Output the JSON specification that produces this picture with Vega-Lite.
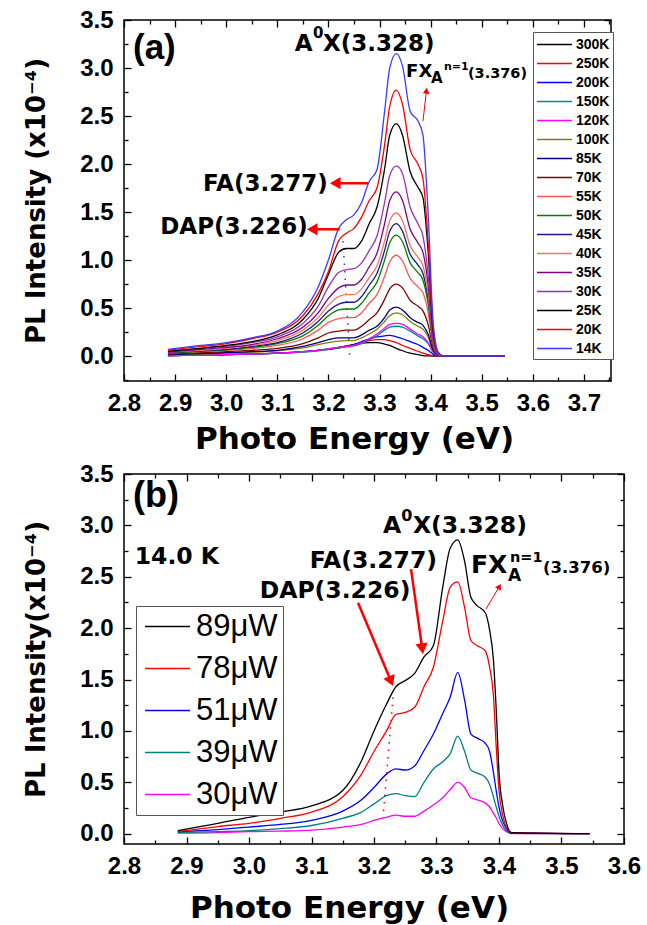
{
"$schema":"https://vega.github.io/schema/vega-lite/v6.json",
"background":"white",
"padding":{"left":22,"top":7,"right":0,"bottom":0},
"spacing":93,
"bounds":"flush",
"resolve":{"scale":{"color":"independent"},"legend":{"color":"independent"}},
"config":{
"view":{"stroke":"black","strokeWidth":1.5},
"axis":{"domain":false,"grid":false,"tickColor":"black","tickWidth":1.3,"labelFont":"Liberation Sans","labelFontWeight":"bold","labelFontSize":24,"labelColor":"black","titleFont":"DejaVu Sans","titleFontWeight":"bold","titleColor":"black","labelOverlap":false,"labelFlush":false},
"legend":{"labelColor":"black","strokeColor":"#555","fillColor":"white","titlePadding":0}
},
"datasets":{
"a":[
{"s":"300K","E":2.886,"I":0.005},{"s":"300K","E":2.95,"I":0.01},{"s":"300K","E":3.0,"I":0.015},{"s":"300K","E":3.05,"I":0.02},{"s":"300K","E":3.1,"I":0.03},{"s":"300K","E":3.15,"I":0.045},{"s":"300K","E":3.18,"I":0.06},{"s":"300K","E":3.2,"I":0.075},{"s":"300K","E":3.22,"I":0.09},{"s":"300K","E":3.235,"I":0.105},{"s":"300K","E":3.25,"I":0.12},{"s":"300K","E":3.265,"I":0.135},{"s":"300K","E":3.28,"I":0.14},{"s":"300K","E":3.295,"I":0.14},{"s":"300K","E":3.31,"I":0.125},{"s":"300K","E":3.32,"I":0.11},{"s":"300K","E":3.333,"I":0.08},{"s":"300K","E":3.345,"I":0.055},{"s":"300K","E":3.36,"I":0.03},{"s":"300K","E":3.375,"I":0.015},{"s":"300K","E":3.385,"I":0.005},{"s":"300K","E":3.395,"I":0.002},{"s":"300K","E":3.405,"I":0},{"s":"300K","E":3.415,"I":0},{"s":"300K","E":3.425,"I":0},{"s":"300K","E":3.545,"I":0},
{"s":"250K","E":2.886,"I":0.005},{"s":"250K","E":2.95,"I":0.01},{"s":"250K","E":3.0,"I":0.015},{"s":"250K","E":3.05,"I":0.02},{"s":"250K","E":3.1,"I":0.03},{"s":"250K","E":3.15,"I":0.045},{"s":"250K","E":3.18,"I":0.06},{"s":"250K","E":3.2,"I":0.07},{"s":"250K","E":3.22,"I":0.085},{"s":"250K","E":3.235,"I":0.1},{"s":"250K","E":3.25,"I":0.12},{"s":"250K","E":3.265,"I":0.14},{"s":"250K","E":3.28,"I":0.16},{"s":"250K","E":3.295,"I":0.17},{"s":"250K","E":3.31,"I":0.17},{"s":"250K","E":3.32,"I":0.16},{"s":"250K","E":3.333,"I":0.14},{"s":"250K","E":3.345,"I":0.11},{"s":"250K","E":3.36,"I":0.08},{"s":"250K","E":3.375,"I":0.05},{"s":"250K","E":3.385,"I":0.03},{"s":"250K","E":3.395,"I":0.015},{"s":"250K","E":3.405,"I":0.005},{"s":"250K","E":3.415,"I":0},{"s":"250K","E":3.425,"I":0},{"s":"250K","E":3.545,"I":0},
{"s":"200K","E":2.886,"I":0.005},{"s":"200K","E":2.95,"I":0.01},{"s":"200K","E":3.0,"I":0.015},{"s":"200K","E":3.05,"I":0.02},{"s":"200K","E":3.1,"I":0.03},{"s":"200K","E":3.15,"I":0.045},{"s":"200K","E":3.18,"I":0.06},{"s":"200K","E":3.2,"I":0.07},{"s":"200K","E":3.22,"I":0.085},{"s":"200K","E":3.235,"I":0.1},{"s":"200K","E":3.25,"I":0.12},{"s":"200K","E":3.265,"I":0.15},{"s":"200K","E":3.28,"I":0.18},{"s":"200K","E":3.295,"I":0.2},{"s":"200K","E":3.31,"I":0.21},{"s":"200K","E":3.32,"I":0.215},{"s":"200K","E":3.333,"I":0.2},{"s":"200K","E":3.345,"I":0.18},{"s":"200K","E":3.36,"I":0.15},{"s":"200K","E":3.375,"I":0.12},{"s":"200K","E":3.385,"I":0.09},{"s":"200K","E":3.395,"I":0.06},{"s":"200K","E":3.405,"I":0.02},{"s":"200K","E":3.415,"I":0.003},{"s":"200K","E":3.425,"I":0},{"s":"200K","E":3.545,"I":0},
{"s":"150K","E":2.886,"I":0.005},{"s":"150K","E":2.95,"I":0.01},{"s":"150K","E":3.0,"I":0.015},{"s":"150K","E":3.05,"I":0.02},{"s":"150K","E":3.1,"I":0.028},{"s":"150K","E":3.15,"I":0.04},{"s":"150K","E":3.18,"I":0.055},{"s":"150K","E":3.2,"I":0.07},{"s":"150K","E":3.22,"I":0.085},{"s":"150K","E":3.235,"I":0.095},{"s":"150K","E":3.25,"I":0.105},{"s":"150K","E":3.265,"I":0.13},{"s":"150K","E":3.28,"I":0.17},{"s":"150K","E":3.295,"I":0.21},{"s":"150K","E":3.31,"I":0.27},{"s":"150K","E":3.32,"I":0.3},{"s":"150K","E":3.333,"I":0.31},{"s":"150K","E":3.345,"I":0.3},{"s":"150K","E":3.36,"I":0.26},{"s":"150K","E":3.375,"I":0.21},{"s":"150K","E":3.385,"I":0.18},{"s":"150K","E":3.395,"I":0.13},{"s":"150K","E":3.405,"I":0.04},{"s":"150K","E":3.415,"I":0.005},{"s":"150K","E":3.425,"I":0},{"s":"150K","E":3.545,"I":0},
{"s":"120K","E":2.886,"I":0.005},{"s":"120K","E":2.95,"I":0.01},{"s":"120K","E":3.0,"I":0.015},{"s":"120K","E":3.05,"I":0.02},{"s":"120K","E":3.1,"I":0.03},{"s":"120K","E":3.15,"I":0.045},{"s":"120K","E":3.18,"I":0.06},{"s":"120K","E":3.2,"I":0.075},{"s":"120K","E":3.22,"I":0.09},{"s":"120K","E":3.235,"I":0.1},{"s":"120K","E":3.25,"I":0.11},{"s":"120K","E":3.265,"I":0.14},{"s":"120K","E":3.28,"I":0.18},{"s":"120K","E":3.295,"I":0.23},{"s":"120K","E":3.31,"I":0.29},{"s":"120K","E":3.32,"I":0.33},{"s":"120K","E":3.333,"I":0.34},{"s":"120K","E":3.345,"I":0.33},{"s":"120K","E":3.36,"I":0.28},{"s":"120K","E":3.375,"I":0.23},{"s":"120K","E":3.385,"I":0.2},{"s":"120K","E":3.395,"I":0.14},{"s":"120K","E":3.405,"I":0.04},{"s":"120K","E":3.415,"I":0.005},{"s":"120K","E":3.425,"I":0},{"s":"120K","E":3.545,"I":0},
{"s":"100K","E":2.886,"I":0.01},{"s":"100K","E":2.95,"I":0.02},{"s":"100K","E":3.0,"I":0.03},{"s":"100K","E":3.05,"I":0.04},{"s":"100K","E":3.1,"I":0.055},{"s":"100K","E":3.15,"I":0.085},{"s":"100K","E":3.18,"I":0.12},{"s":"100K","E":3.2,"I":0.14},{"s":"100K","E":3.22,"I":0.155},{"s":"100K","E":3.235,"I":0.16},{"s":"100K","E":3.25,"I":0.16},{"s":"100K","E":3.265,"I":0.19},{"s":"100K","E":3.28,"I":0.23},{"s":"100K","E":3.295,"I":0.28},{"s":"100K","E":3.31,"I":0.36},{"s":"100K","E":3.32,"I":0.42},{"s":"100K","E":3.333,"I":0.45},{"s":"100K","E":3.345,"I":0.43},{"s":"100K","E":3.36,"I":0.36},{"s":"100K","E":3.375,"I":0.31},{"s":"100K","E":3.385,"I":0.28},{"s":"100K","E":3.395,"I":0.2},{"s":"100K","E":3.405,"I":0.05},{"s":"100K","E":3.415,"I":0.01},{"s":"100K","E":3.425,"I":0},{"s":"100K","E":3.545,"I":0},
{"s":"85K","E":2.886,"I":0.015},{"s":"85K","E":2.95,"I":0.025},{"s":"85K","E":3.0,"I":0.035},{"s":"85K","E":3.05,"I":0.045},{"s":"85K","E":3.1,"I":0.06},{"s":"85K","E":3.15,"I":0.1},{"s":"85K","E":3.18,"I":0.14},{"s":"85K","E":3.2,"I":0.17},{"s":"85K","E":3.22,"I":0.19},{"s":"85K","E":3.235,"I":0.19},{"s":"85K","E":3.25,"I":0.19},{"s":"85K","E":3.265,"I":0.22},{"s":"85K","E":3.28,"I":0.27},{"s":"85K","E":3.295,"I":0.31},{"s":"85K","E":3.31,"I":0.4},{"s":"85K","E":3.32,"I":0.48},{"s":"85K","E":3.333,"I":0.51},{"s":"85K","E":3.345,"I":0.48},{"s":"85K","E":3.36,"I":0.4},{"s":"85K","E":3.375,"I":0.35},{"s":"85K","E":3.385,"I":0.32},{"s":"85K","E":3.395,"I":0.23},{"s":"85K","E":3.405,"I":0.06},{"s":"85K","E":3.415,"I":0.01},{"s":"85K","E":3.425,"I":0},{"s":"85K","E":3.545,"I":0},
{"s":"70K","E":2.886,"I":0.02},{"s":"70K","E":2.95,"I":0.035},{"s":"70K","E":3.0,"I":0.045},{"s":"70K","E":3.05,"I":0.06},{"s":"70K","E":3.1,"I":0.08},{"s":"70K","E":3.15,"I":0.13},{"s":"70K","E":3.18,"I":0.19},{"s":"70K","E":3.2,"I":0.24},{"s":"70K","E":3.22,"I":0.26},{"s":"70K","E":3.235,"I":0.27},{"s":"70K","E":3.25,"I":0.27},{"s":"70K","E":3.265,"I":0.31},{"s":"70K","E":3.28,"I":0.38},{"s":"70K","E":3.295,"I":0.45},{"s":"70K","E":3.31,"I":0.59},{"s":"70K","E":3.32,"I":0.7},{"s":"70K","E":3.333,"I":0.75},{"s":"70K","E":3.345,"I":0.71},{"s":"70K","E":3.36,"I":0.58},{"s":"70K","E":3.375,"I":0.52},{"s":"70K","E":3.385,"I":0.47},{"s":"70K","E":3.395,"I":0.33},{"s":"70K","E":3.405,"I":0.09},{"s":"70K","E":3.415,"I":0.01},{"s":"70K","E":3.425,"I":0},{"s":"70K","E":3.545,"I":0},
{"s":"55K","E":2.886,"I":0.03},{"s":"55K","E":2.95,"I":0.045},{"s":"55K","E":3.0,"I":0.06},{"s":"55K","E":3.05,"I":0.08},{"s":"55K","E":3.1,"I":0.11},{"s":"55K","E":3.15,"I":0.18},{"s":"55K","E":3.18,"I":0.27},{"s":"55K","E":3.2,"I":0.35},{"s":"55K","E":3.22,"I":0.39},{"s":"55K","E":3.235,"I":0.4},{"s":"55K","E":3.25,"I":0.4},{"s":"55K","E":3.265,"I":0.45},{"s":"55K","E":3.28,"I":0.55},{"s":"55K","E":3.295,"I":0.64},{"s":"55K","E":3.31,"I":0.83},{"s":"55K","E":3.32,"I":0.98},{"s":"55K","E":3.333,"I":1.05},{"s":"55K","E":3.345,"I":0.99},{"s":"55K","E":3.36,"I":0.81},{"s":"55K","E":3.375,"I":0.72},{"s":"55K","E":3.385,"I":0.66},{"s":"55K","E":3.395,"I":0.46},{"s":"55K","E":3.405,"I":0.12},{"s":"55K","E":3.415,"I":0.015},{"s":"55K","E":3.425,"I":0},{"s":"55K","E":3.545,"I":0},
{"s":"50K","E":2.886,"I":0.03},{"s":"50K","E":2.95,"I":0.05},{"s":"50K","E":3.0,"I":0.065},{"s":"50K","E":3.05,"I":0.09},{"s":"50K","E":3.1,"I":0.13},{"s":"50K","E":3.15,"I":0.21},{"s":"50K","E":3.18,"I":0.32},{"s":"50K","E":3.2,"I":0.42},{"s":"50K","E":3.22,"I":0.48},{"s":"50K","E":3.235,"I":0.49},{"s":"50K","E":3.25,"I":0.49},{"s":"50K","E":3.265,"I":0.55},{"s":"50K","E":3.28,"I":0.66},{"s":"50K","E":3.295,"I":0.77},{"s":"50K","E":3.31,"I":1.0},{"s":"50K","E":3.32,"I":1.18},{"s":"50K","E":3.333,"I":1.26},{"s":"50K","E":3.345,"I":1.19},{"s":"50K","E":3.36,"I":0.97},{"s":"50K","E":3.375,"I":0.87},{"s":"50K","E":3.385,"I":0.79},{"s":"50K","E":3.395,"I":0.55},{"s":"50K","E":3.405,"I":0.14},{"s":"50K","E":3.415,"I":0.02},{"s":"50K","E":3.425,"I":0},{"s":"50K","E":3.545,"I":0},
{"s":"45K","E":2.886,"I":0.035},{"s":"45K","E":2.95,"I":0.055},{"s":"45K","E":3.0,"I":0.07},{"s":"45K","E":3.05,"I":0.1},{"s":"45K","E":3.1,"I":0.14},{"s":"45K","E":3.15,"I":0.24},{"s":"45K","E":3.18,"I":0.36},{"s":"45K","E":3.2,"I":0.47},{"s":"45K","E":3.22,"I":0.54},{"s":"45K","E":3.235,"I":0.56},{"s":"45K","E":3.25,"I":0.56},{"s":"45K","E":3.265,"I":0.62},{"s":"45K","E":3.28,"I":0.74},{"s":"45K","E":3.295,"I":0.86},{"s":"45K","E":3.31,"I":1.1},{"s":"45K","E":3.32,"I":1.3},{"s":"45K","E":3.333,"I":1.38},{"s":"45K","E":3.345,"I":1.3},{"s":"45K","E":3.36,"I":1.06},{"s":"45K","E":3.375,"I":0.95},{"s":"45K","E":3.385,"I":0.86},{"s":"45K","E":3.395,"I":0.6},{"s":"45K","E":3.405,"I":0.15},{"s":"45K","E":3.415,"I":0.02},{"s":"45K","E":3.425,"I":0},{"s":"45K","E":3.545,"I":0},
{"s":"40K","E":2.886,"I":0.04},{"s":"40K","E":2.95,"I":0.06},{"s":"40K","E":3.0,"I":0.08},{"s":"40K","E":3.05,"I":0.11},{"s":"40K","E":3.1,"I":0.16},{"s":"40K","E":3.15,"I":0.27},{"s":"40K","E":3.18,"I":0.4},{"s":"40K","E":3.2,"I":0.53},{"s":"40K","E":3.22,"I":0.62},{"s":"40K","E":3.235,"I":0.64},{"s":"40K","E":3.25,"I":0.64},{"s":"40K","E":3.265,"I":0.7},{"s":"40K","E":3.28,"I":0.82},{"s":"40K","E":3.295,"I":0.94},{"s":"40K","E":3.31,"I":1.2},{"s":"40K","E":3.32,"I":1.41},{"s":"40K","E":3.333,"I":1.49},{"s":"40K","E":3.345,"I":1.41},{"s":"40K","E":3.36,"I":1.15},{"s":"40K","E":3.375,"I":1.03},{"s":"40K","E":3.385,"I":0.94},{"s":"40K","E":3.395,"I":0.66},{"s":"40K","E":3.405,"I":0.16},{"s":"40K","E":3.415,"I":0.02},{"s":"40K","E":3.425,"I":0},{"s":"40K","E":3.545,"I":0},
{"s":"35K","E":2.886,"I":0.04},{"s":"35K","E":2.95,"I":0.07},{"s":"35K","E":3.0,"I":0.09},{"s":"35K","E":3.05,"I":0.12},{"s":"35K","E":3.1,"I":0.18},{"s":"35K","E":3.15,"I":0.3},{"s":"35K","E":3.18,"I":0.45},{"s":"35K","E":3.2,"I":0.6},{"s":"35K","E":3.22,"I":0.71},{"s":"35K","E":3.235,"I":0.74},{"s":"35K","E":3.25,"I":0.74},{"s":"35K","E":3.265,"I":0.8},{"s":"35K","E":3.28,"I":0.93},{"s":"35K","E":3.295,"I":1.07},{"s":"35K","E":3.31,"I":1.38},{"s":"35K","E":3.32,"I":1.62},{"s":"35K","E":3.333,"I":1.71},{"s":"35K","E":3.345,"I":1.62},{"s":"35K","E":3.36,"I":1.32},{"s":"35K","E":3.375,"I":1.18},{"s":"35K","E":3.385,"I":1.08},{"s":"35K","E":3.395,"I":0.75},{"s":"35K","E":3.405,"I":0.18},{"s":"35K","E":3.415,"I":0.02},{"s":"35K","E":3.425,"I":0},{"s":"35K","E":3.545,"I":0},
{"s":"30K","E":2.886,"I":0.05},{"s":"30K","E":2.95,"I":0.08},{"s":"30K","E":3.0,"I":0.1},{"s":"30K","E":3.05,"I":0.14},{"s":"30K","E":3.1,"I":0.2},{"s":"30K","E":3.15,"I":0.34},{"s":"30K","E":3.18,"I":0.52},{"s":"30K","E":3.2,"I":0.72},{"s":"30K","E":3.22,"I":0.87},{"s":"30K","E":3.235,"I":0.9},{"s":"30K","E":3.25,"I":0.91},{"s":"30K","E":3.265,"I":0.97},{"s":"30K","E":3.28,"I":1.1},{"s":"30K","E":3.295,"I":1.25},{"s":"30K","E":3.31,"I":1.6},{"s":"30K","E":3.32,"I":1.88},{"s":"30K","E":3.333,"I":1.98},{"s":"30K","E":3.345,"I":1.9},{"s":"30K","E":3.36,"I":1.55},{"s":"30K","E":3.375,"I":1.38},{"s":"30K","E":3.385,"I":1.25},{"s":"30K","E":3.395,"I":0.85},{"s":"30K","E":3.405,"I":0.2},{"s":"30K","E":3.415,"I":0.02},{"s":"30K","E":3.425,"I":0},{"s":"30K","E":3.545,"I":0},
{"s":"25K","E":2.886,"I":0.05},{"s":"25K","E":2.95,"I":0.08},{"s":"25K","E":3.0,"I":0.11},{"s":"25K","E":3.05,"I":0.15},{"s":"25K","E":3.1,"I":0.22},{"s":"25K","E":3.15,"I":0.38},{"s":"25K","E":3.18,"I":0.6},{"s":"25K","E":3.2,"I":0.85},{"s":"25K","E":3.22,"I":1.08},{"s":"25K","E":3.235,"I":1.12},{"s":"25K","E":3.25,"I":1.12},{"s":"25K","E":3.265,"I":1.2},{"s":"25K","E":3.28,"I":1.38},{"s":"25K","E":3.295,"I":1.55},{"s":"25K","E":3.31,"I":1.95},{"s":"25K","E":3.32,"I":2.3},{"s":"25K","E":3.333,"I":2.42},{"s":"25K","E":3.345,"I":2.3},{"s":"25K","E":3.36,"I":1.92},{"s":"25K","E":3.375,"I":1.76},{"s":"25K","E":3.385,"I":1.65},{"s":"25K","E":3.395,"I":1.1},{"s":"25K","E":3.405,"I":0.25},{"s":"25K","E":3.415,"I":0.03},{"s":"25K","E":3.425,"I":0},{"s":"25K","E":3.545,"I":0},
{"s":"20K","E":2.886,"I":0.06},{"s":"20K","E":2.95,"I":0.1},{"s":"20K","E":3.0,"I":0.13},{"s":"20K","E":3.05,"I":0.18},{"s":"20K","E":3.1,"I":0.25},{"s":"20K","E":3.15,"I":0.42},{"s":"20K","E":3.18,"I":0.65},{"s":"20K","E":3.2,"I":0.88},{"s":"20K","E":3.22,"I":1.2},{"s":"20K","E":3.235,"I":1.28},{"s":"20K","E":3.25,"I":1.33},{"s":"20K","E":3.265,"I":1.45},{"s":"20K","E":3.28,"I":1.62},{"s":"20K","E":3.295,"I":1.75},{"s":"20K","E":3.31,"I":2.2},{"s":"20K","E":3.32,"I":2.6},{"s":"20K","E":3.333,"I":2.77},{"s":"20K","E":3.345,"I":2.62},{"s":"20K","E":3.36,"I":2.15},{"s":"20K","E":3.375,"I":2.0},{"s":"20K","E":3.385,"I":1.85},{"s":"20K","E":3.395,"I":1.2},{"s":"20K","E":3.405,"I":0.3},{"s":"20K","E":3.415,"I":0.03},{"s":"20K","E":3.425,"I":0},{"s":"20K","E":3.545,"I":0},
{"s":"14K","E":2.886,"I":0.07},{"s":"14K","E":2.95,"I":0.11},{"s":"14K","E":3.0,"I":0.14},{"s":"14K","E":3.05,"I":0.19},{"s":"14K","E":3.1,"I":0.26},{"s":"14K","E":3.15,"I":0.46},{"s":"14K","E":3.18,"I":0.72},{"s":"14K","E":3.2,"I":1.0},{"s":"14K","E":3.22,"I":1.33},{"s":"14K","E":3.235,"I":1.42},{"s":"14K","E":3.25,"I":1.47},{"s":"14K","E":3.265,"I":1.6},{"s":"14K","E":3.28,"I":1.82},{"s":"14K","E":3.295,"I":1.94},{"s":"14K","E":3.31,"I":2.55},{"s":"14K","E":3.32,"I":3.0},{"s":"14K","E":3.333,"I":3.15},{"s":"14K","E":3.345,"I":3.02},{"s":"14K","E":3.36,"I":2.55},{"s":"14K","E":3.375,"I":2.45},{"s":"14K","E":3.385,"I":2.3},{"s":"14K","E":3.395,"I":1.5},{"s":"14K","E":3.405,"I":0.35},{"s":"14K","E":3.415,"I":0.04},{"s":"14K","E":3.425,"I":0},{"s":"14K","E":3.545,"I":0}
],
"b":[
{"s":"30μW","E":2.886,"I":0.005},{"s":"30μW","E":2.95,"I":0.01},{"s":"30μW","E":3.0,"I":0.02},{"s":"30μW","E":3.05,"I":0.025},{"s":"30μW","E":3.1,"I":0.035},{"s":"30μW","E":3.15,"I":0.065},{"s":"30μW","E":3.18,"I":0.09},{"s":"30μW","E":3.2,"I":0.13},{"s":"30μW","E":3.22,"I":0.16},{"s":"30μW","E":3.235,"I":0.18},{"s":"30μW","E":3.25,"I":0.17},{"s":"30μW","E":3.265,"I":0.17},{"s":"30μW","E":3.28,"I":0.22},{"s":"30μW","E":3.295,"I":0.28},{"s":"30μW","E":3.31,"I":0.35},{"s":"30μW","E":3.322,"I":0.43},{"s":"30μW","E":3.334,"I":0.5},{"s":"30μW","E":3.345,"I":0.45},{"s":"30μW","E":3.355,"I":0.35},{"s":"30μW","E":3.365,"I":0.33},{"s":"30μW","E":3.378,"I":0.3},{"s":"30μW","E":3.385,"I":0.26},{"s":"30μW","E":3.391,"I":0.2},{"s":"30μW","E":3.396,"I":0.15},{"s":"30μW","E":3.4,"I":0.1},{"s":"30μW","E":3.406,"I":0.05},{"s":"30μW","E":3.412,"I":0.02},{"s":"30μW","E":3.42,"I":0.002},{"s":"30μW","E":3.545,"I":0},
{"s":"39μW","E":2.886,"I":0.01},{"s":"39μW","E":2.95,"I":0.02},{"s":"39μW","E":3.0,"I":0.03},{"s":"39μW","E":3.05,"I":0.05},{"s":"39μW","E":3.1,"I":0.08},{"s":"39μW","E":3.15,"I":0.15},{"s":"39μW","E":3.18,"I":0.21},{"s":"39μW","E":3.2,"I":0.29},{"s":"39μW","E":3.22,"I":0.37},{"s":"39μW","E":3.235,"I":0.39},{"s":"39μW","E":3.25,"I":0.37},{"s":"39μW","E":3.265,"I":0.36},{"s":"39μW","E":3.28,"I":0.5},{"s":"39μW","E":3.295,"I":0.63},{"s":"39μW","E":3.31,"I":0.7},{"s":"39μW","E":3.322,"I":0.78},{"s":"39μW","E":3.334,"I":0.95},{"s":"39μW","E":3.345,"I":0.8},{"s":"39μW","E":3.355,"I":0.62},{"s":"39μW","E":3.365,"I":0.59},{"s":"39μW","E":3.378,"I":0.55},{"s":"39μW","E":3.385,"I":0.48},{"s":"39μW","E":3.391,"I":0.36},{"s":"39μW","E":3.396,"I":0.25},{"s":"39μW","E":3.4,"I":0.17},{"s":"39μW","E":3.406,"I":0.08},{"s":"39μW","E":3.412,"I":0.03},{"s":"39μW","E":3.42,"I":0.003},{"s":"39μW","E":3.545,"I":0},
{"s":"51μW","E":2.886,"I":0.02},{"s":"51μW","E":2.95,"I":0.04},{"s":"51μW","E":3.0,"I":0.065},{"s":"51μW","E":3.05,"I":0.09},{"s":"51μW","E":3.1,"I":0.13},{"s":"51μW","E":3.15,"I":0.22},{"s":"51μW","E":3.18,"I":0.33},{"s":"51μW","E":3.2,"I":0.45},{"s":"51μW","E":3.22,"I":0.58},{"s":"51μW","E":3.235,"I":0.63},{"s":"51μW","E":3.25,"I":0.62},{"s":"51μW","E":3.265,"I":0.66},{"s":"51μW","E":3.28,"I":0.81},{"s":"51μW","E":3.295,"I":0.97},{"s":"51μW","E":3.31,"I":1.17},{"s":"51μW","E":3.322,"I":1.33},{"s":"51μW","E":3.334,"I":1.57},{"s":"51μW","E":3.345,"I":1.3},{"s":"51μW","E":3.355,"I":0.97},{"s":"51μW","E":3.365,"I":0.93},{"s":"51μW","E":3.378,"I":0.88},{"s":"51μW","E":3.385,"I":0.8},{"s":"51μW","E":3.391,"I":0.6},{"s":"51μW","E":3.396,"I":0.4},{"s":"51μW","E":3.4,"I":0.26},{"s":"51μW","E":3.406,"I":0.12},{"s":"51μW","E":3.412,"I":0.05},{"s":"51μW","E":3.42,"I":0.005},{"s":"51μW","E":3.545,"I":0},
{"s":"78μW","E":2.886,"I":0.02},{"s":"78μW","E":2.95,"I":0.07},{"s":"78μW","E":3.0,"I":0.1},{"s":"78μW","E":3.05,"I":0.15},{"s":"78μW","E":3.1,"I":0.21},{"s":"78μW","E":3.15,"I":0.36},{"s":"78μW","E":3.18,"I":0.58},{"s":"78μW","E":3.2,"I":0.8},{"s":"78μW","E":3.22,"I":1.0},{"s":"78μW","E":3.235,"I":1.16},{"s":"78μW","E":3.25,"I":1.18},{"s":"78μW","E":3.265,"I":1.23},{"s":"78μW","E":3.28,"I":1.43},{"s":"78μW","E":3.295,"I":1.62},{"s":"78μW","E":3.31,"I":2.07},{"s":"78μW","E":3.322,"I":2.4},{"s":"78μW","E":3.334,"I":2.45},{"s":"78μW","E":3.345,"I":2.2},{"s":"78μW","E":3.355,"I":1.88},{"s":"78μW","E":3.365,"I":1.83},{"s":"78μW","E":3.378,"I":1.78},{"s":"78μW","E":3.385,"I":1.62},{"s":"78μW","E":3.391,"I":1.35},{"s":"78μW","E":3.396,"I":0.8},{"s":"78μW","E":3.4,"I":0.42},{"s":"78μW","E":3.406,"I":0.18},{"s":"78μW","E":3.412,"I":0.06},{"s":"78μW","E":3.42,"I":0.01},{"s":"78μW","E":3.545,"I":0},
{"s":"89μW","E":2.886,"I":0.03},{"s":"89μW","E":2.95,"I":0.1},{"s":"89μW","E":3.0,"I":0.16},{"s":"89μW","E":3.05,"I":0.21},{"s":"89μW","E":3.1,"I":0.27},{"s":"89μW","E":3.15,"I":0.42},{"s":"89μW","E":3.18,"I":0.71},{"s":"89μW","E":3.2,"I":1.0},{"s":"89μW","E":3.22,"I":1.26},{"s":"89μW","E":3.235,"I":1.43},{"s":"89μW","E":3.25,"I":1.49},{"s":"89μW","E":3.265,"I":1.56},{"s":"89μW","E":3.28,"I":1.72},{"s":"89μW","E":3.295,"I":1.83},{"s":"89μW","E":3.31,"I":2.4},{"s":"89μW","E":3.322,"I":2.78},{"s":"89μW","E":3.334,"I":2.86},{"s":"89μW","E":3.345,"I":2.65},{"s":"89μW","E":3.355,"I":2.3},{"s":"89μW","E":3.365,"I":2.22},{"s":"89μW","E":3.378,"I":2.15},{"s":"89μW","E":3.385,"I":1.98},{"s":"89μW","E":3.391,"I":1.7},{"s":"89μW","E":3.396,"I":1.15},{"s":"89μW","E":3.4,"I":0.6},{"s":"89μW","E":3.406,"I":0.27},{"s":"89μW","E":3.412,"I":0.1},{"s":"89μW","E":3.42,"I":0.01},{"s":"89μW","E":3.545,"I":0}
],
"annA":[
{"g":"big","t":"(a)","E":2.8176,"I":3.09},
{"g":"main","t":"A","E":3.134,"I":3.177},
{"g":"main","t":"X(3.328)","E":3.1894,"I":3.177},
{"g":"main","t":"FA(3.277)","E":2.9546,"I":1.719},
{"g":"main","t":"DAP(3.226)","E":2.871,"I":1.268},
{"g":"sup0","t":"0","E":3.17,"I":3.316},
{"g":"fx","t":"FX","E":3.352,"I":2.906},
{"g":"sub","t":"A","E":3.4008,"I":2.844},
{"g":"supn","t":"n=1","E":3.426,"I":2.979},
{"g":"par","t":"(3.376)","E":3.473,"I":2.896}
],
"annB":[
{"g":"big","t":"(b)","E":2.8144,"I":3.18},
{"g":"main","t":"A","E":3.2144,"I":2.928},
{"g":"main","t":"X(3.328)","E":3.2624,"I":2.928},
{"g":"main","t":"FA(3.277)","E":3.0971,"I":2.588},
{"g":"main","t":"DAP(3.226)","E":3.0171,"I":2.296},
{"g":"main","t":"14.0 K","E":2.8171,"I":2.624},
{"g":"sup0","t":"0","E":3.2437,"I":3.047},
{"g":"fx","t":"FX","E":3.3552,"I":2.539},
{"g":"sub","t":"A","E":3.4144,"I":2.459},
{"g":"supn","t":"n=1","E":3.4176,"I":2.646},
{"g":"par","t":"(3.376)","E":3.4704,"I":2.539}
],
"arrA":[
{"k":"thick","id":"FA","E":3.2775,"I":1.8,"E2":3.2168,"I2":1.8},
{"k":"thick","id":"DAP","E":3.2221,"I":1.32,"E2":3.1718,"I2":1.32},
{"k":"thin","id":"FX","E":3.3851,"I":2.448,"E2":3.3916,"I2":2.753}
],
"arrB":[
{"k":"thick","id":"DAP","E":3.1744,"I":2.248,"E2":3.2261,"I2":1.5},
{"k":"thick","id":"FA","E":3.2592,"I":2.575,"E2":3.2768,"I2":1.817},
{"k":"thin","id":"FX","E":3.3792,"I":2.187,"E2":3.3998,"I2":2.397}
],
"dotA":[{"E":3.2286,"I":1.198,"E2":3.2417,"I2":0}],
"dotB":[{"E":3.2304,"I":1.327,"E2":3.2144,"I2":0.159}]
},
"vconcat":[
{
"width":487,"height":361,
"layer":[
{"data":{"name":"dotA"},"mark":{"type":"rule","color":"#3333ff","strokeDash":[1.5,6],"strokeWidth":1.5},
"encoding":{
"x":{"field":"E","type":"quantitative","scale":{"domain":[2.8,3.753],"nice":false,"zero":false},"axis":{"orient":"top","labels":false,"title":null,"values":[2.8,2.85,2.9,2.95,3.0,3.05,3.1,3.15,3.2,3.25,3.3,3.35,3.4,3.45,3.5,3.55,3.6,3.65,3.7,3.75],"tickSize":{"condition":{"test":"abs(datum.value*10-round(datum.value*10))<0.001","value":-7},"value":-4}}},
"y":{"field":"I","type":"quantitative","scale":{"domain":[-0.26,3.5],"nice":false,"zero":false},"axis":{"orient":"right","labels":false,"title":null,"values":[-0.25,0,0.25,0.5,0.75,1,1.25,1.5,1.75,2,2.25,2.5,2.75,3,3.25,3.5],"tickSize":{"condition":{"test":"abs(datum.value*2-round(datum.value*2))<0.001","value":-7},"value":-4}}},
"x2":{"field":"E2"},"y2":{"field":"I2"}}},
{"data":{"name":"a"},"mark":{"type":"line","strokeWidth":1.3,"interpolate":"monotone"},
"encoding":{
"x":{"field":"E","type":"quantitative","scale":{"domain":[2.8,3.753],"nice":false,"zero":false},"axis":{"orient":"bottom","title":"Photo Energy (eV)","titleFontSize":31,"titlePadding":6,"titleX":230,"values":[2.8,2.85,2.9,2.95,3.0,3.05,3.1,3.15,3.2,3.25,3.3,3.35,3.4,3.45,3.5,3.55,3.6,3.65,3.7,3.75],"tickSize":{"condition":{"test":"abs(datum.value*10-round(datum.value*10))<0.001","value":-7},"value":-4},"labelPadding":17,"labelExpr":"abs(datum.value*10-round(datum.value*10))<0.001 ? format(datum.value,'.1f') : ''"}},
"y":{"field":"I","type":"quantitative","scale":{"domain":[-0.26,3.5],"nice":false,"zero":false},"axis":{"orient":"left","title":"PL Intensity (x10⁻⁴)","titleFontSize":26,"titlePadding":30,"values":[-0.25,0,0.25,0.5,0.75,1,1.25,1.5,1.75,2,2.25,2.5,2.75,3,3.25,3.5],"tickSize":{"condition":{"test":"abs(datum.value*2-round(datum.value*2))<0.001","value":-7},"value":-4},"labelPadding":18,"labelExpr":"abs(datum.value*2-round(datum.value*2))<0.001 ? format(datum.value,'.1f') : ''"}},
"color":{"field":"s","type":"nominal","scale":{"domain":["300K","250K","200K","150K","120K","100K","85K","70K","55K","50K","45K","40K","35K","30K","25K","20K","14K"],"range":["#000000","#ff0000","#0000ff","#008b8b","#ff00ff","#808000","#000080","#800000","#ff5555","#008000","#1a1a8c","#f07860","#800080","#9933aa","#000000","#ff0000","#3b3bff"]},
"legend":{"orient":"none","legendX":409,"legendY":12,"title":null,"symbolType":"M-2,0H2","symbolSize":306,"symbolStrokeWidth":1.5,"symbolOffset":9,"labelOffset":12,"labelFont":"Liberation Sans","labelFontWeight":"bold","labelFontSize":14,"rowPadding":2,"padding":3}}}},
{"data":{"name":"arrA"},"transform":[{"filter":"datum.k=='thick'"}],"mark":{"type":"rule","color":"red","strokeWidth":2.5},
"encoding":{"x":{"field":"E","type":"quantitative","axis":null},"y":{"field":"I","type":"quantitative","axis":null},"x2":{"field":"E2"},"y2":{"field":"I2"}}},
{"data":{"name":"arrA"},"transform":[{"filter":"datum.k=='thin'"}],"mark":{"type":"rule","color":"red","strokeWidth":1},
"encoding":{"x":{"field":"E","type":"quantitative","axis":null},"y":{"field":"I","type":"quantitative","axis":null},"x2":{"field":"E2"},"y2":{"field":"I2"}}},
{"data":{"name":"arrA"},"transform":[{"filter":"datum.k=='thick'"}],"mark":{"type":"point","shape":"triangle","filled":true,"color":"red","opacity":1,"size":150,"angle":270},
"encoding":{"x":{"field":"E2","type":"quantitative","axis":null},"y":{"field":"I2","type":"quantitative","axis":null}}},
{"data":{"name":"arrA"},"transform":[{"filter":"datum.k=='thin'"}],"mark":{"type":"point","shape":"triangle","filled":true,"color":"red","opacity":1,"size":45,"angle":6},
"encoding":{"x":{"field":"E2","type":"quantitative","axis":null},"y":{"field":"I2","type":"quantitative","axis":null}}},
{"data":{"name":"annA"},"transform":[{"filter":"datum.g=='big'"}],"mark":{"type":"text","font":"Liberation Sans","fontWeight":"bold","fontSize":35,"align":"left","baseline":"alphabetic","color":"black"},
"encoding":{"x":{"field":"E","type":"quantitative","axis":null},"y":{"field":"I","type":"quantitative","axis":null},"text":{"field":"t"}}},
{"data":{"name":"annA"},"transform":[{"filter":"datum.g=='main'"}],"mark":{"type":"text","font":"DejaVu Sans","fontWeight":"bold","fontSize":23,"align":"left","baseline":"alphabetic","color":"black"},
"encoding":{"x":{"field":"E","type":"quantitative","axis":null},"y":{"field":"I","type":"quantitative","axis":null},"text":{"field":"t"}}},
{"data":{"name":"annA"},"transform":[{"filter":"datum.g=='sup0'"}],"mark":{"type":"text","font":"DejaVu Sans","fontWeight":"bold","fontSize":15,"align":"left","baseline":"alphabetic","color":"black"},
"encoding":{"x":{"field":"E","type":"quantitative","axis":null},"y":{"field":"I","type":"quantitative","axis":null},"text":{"field":"t"}}},
{"data":{"name":"annA"},"transform":[{"filter":"datum.g=='fx'"}],"mark":{"type":"text","font":"DejaVu Sans","fontWeight":"bold","fontSize":18,"align":"left","baseline":"alphabetic","color":"black"},
"encoding":{"x":{"field":"E","type":"quantitative","axis":null},"y":{"field":"I","type":"quantitative","axis":null},"text":{"field":"t"}}},
{"data":{"name":"annA"},"transform":[{"filter":"datum.g=='sub'"}],"mark":{"type":"text","font":"DejaVu Sans","fontWeight":"bold","fontSize":15,"align":"left","baseline":"alphabetic","color":"black"},
"encoding":{"x":{"field":"E","type":"quantitative","axis":null},"y":{"field":"I","type":"quantitative","axis":null},"text":{"field":"t"}}},
{"data":{"name":"annA"},"transform":[{"filter":"datum.g=='supn'"}],"mark":{"type":"text","font":"DejaVu Sans","fontWeight":"bold","fontSize":11,"align":"left","baseline":"alphabetic","color":"black"},
"encoding":{"x":{"field":"E","type":"quantitative","axis":null},"y":{"field":"I","type":"quantitative","axis":null},"text":{"field":"t"}}},
{"data":{"name":"annA"},"transform":[{"filter":"datum.g=='par'"}],"mark":{"type":"text","font":"DejaVu Sans","fontWeight":"bold","fontSize":14.5,"align":"left","baseline":"alphabetic","color":"black"},
"encoding":{"x":{"field":"E","type":"quantitative","axis":null},"y":{"field":"I","type":"quantitative","axis":null},"text":{"field":"t"}}}
],
"resolve":{"axis":{"x":"independent","y":"independent"}}
},
{
"width":500,"height":370,
"layer":[
{"data":{"name":"dotB"},"mark":{"type":"rule","color":"red","strokeDash":[1.5,6],"strokeWidth":1.5},
"encoding":{
"x":{"field":"E","type":"quantitative","scale":{"domain":[2.8,3.6],"nice":false,"zero":false},"axis":{"orient":"top","labels":false,"title":null,"values":[2.8,2.85,2.9,2.95,3.0,3.05,3.1,3.15,3.2,3.25,3.3,3.35,3.4,3.45,3.5,3.55,3.6],"tickSize":{"condition":{"test":"abs(datum.value*10-round(datum.value*10))<0.001","value":-7},"value":-4}}},
"y":{"field":"I","type":"quantitative","scale":{"domain":[-0.1,3.5],"nice":false,"zero":false},"axis":{"orient":"right","labels":false,"title":null,"values":[0,0.25,0.5,0.75,1,1.25,1.5,1.75,2,2.25,2.5,2.75,3,3.25,3.5],"tickSize":{"condition":{"test":"abs(datum.value*2-round(datum.value*2))<0.001","value":-7},"value":-4}}},
"x2":{"field":"E2"},"y2":{"field":"I2"}}},
{"data":{"name":"b"},"mark":{"type":"line","strokeWidth":1.3,"interpolate":"monotone"},
"encoding":{
"x":{"field":"E","type":"quantitative","scale":{"domain":[2.8,3.6],"nice":false,"zero":false},"axis":{"orient":"bottom","title":"Photo Energy (eV)","titleFontSize":31,"titlePadding":12,"titleX":225,"values":[2.8,2.85,2.9,2.95,3.0,3.05,3.1,3.15,3.2,3.25,3.3,3.35,3.4,3.45,3.5,3.55,3.6],"tickSize":{"condition":{"test":"abs(datum.value*10-round(datum.value*10))<0.001","value":-7},"value":-4},"labelPadding":17,"labelExpr":"abs(datum.value*10-round(datum.value*10))<0.001 ? format(datum.value,'.1f') : ''"}},
"y":{"field":"I","type":"quantitative","scale":{"domain":[-0.1,3.5],"nice":false,"zero":false},"axis":{"orient":"left","title":"PL Intensity(x10⁻⁴)","titleFontSize":26,"titlePadding":30,"values":[0,0.25,0.5,0.75,1,1.25,1.5,1.75,2,2.25,2.5,2.75,3,3.25,3.5],"tickSize":{"condition":{"test":"abs(datum.value*2-round(datum.value*2))<0.001","value":-7},"value":-4},"labelPadding":18,"labelExpr":"abs(datum.value*2-round(datum.value*2))<0.001 ? format(datum.value,'.1f') : ''"}},
"color":{"field":"s","type":"nominal","scale":{"domain":["89μW","78μW","51μW","39μW","30μW"],"range":["#000000","#ff0000","#0000ff","#008080","#ff00ff"]},
"legend":{"orient":"none","legendX":12,"legendY":132,"title":null,"symbolType":"M-2,0H2","symbolSize":506,"symbolStrokeWidth":1.5,"symbolOffset":11,"labelOffset":13,"labelFont":"Liberation Sans","labelFontWeight":"normal","labelFontSize":31,"rowPadding":10,"padding":5}}}},
{"data":{"name":"arrB"},"transform":[{"filter":"datum.k=='thick'"}],"mark":{"type":"rule","color":"red","strokeWidth":2.5},
"encoding":{"x":{"field":"E","type":"quantitative","axis":null},"y":{"field":"I","type":"quantitative","axis":null},"x2":{"field":"E2"},"y2":{"field":"I2"}}},
{"data":{"name":"arrB"},"transform":[{"filter":"datum.k=='thin'"}],"mark":{"type":"rule","color":"red","strokeWidth":1},
"encoding":{"x":{"field":"E","type":"quantitative","axis":null},"y":{"field":"I","type":"quantitative","axis":null},"x2":{"field":"E2"},"y2":{"field":"I2"}}},
{"data":{"name":"arrB"},"transform":[{"filter":"datum.id=='DAP'"}],"mark":{"type":"point","shape":"triangle","filled":true,"color":"red","opacity":1,"size":150,"angle":157},
"encoding":{"x":{"field":"E2","type":"quantitative","axis":null},"y":{"field":"I2","type":"quantitative","axis":null}}},
{"data":{"name":"arrB"},"transform":[{"filter":"datum.id=='FA'"}],"mark":{"type":"point","shape":"triangle","filled":true,"color":"red","opacity":1,"size":150,"angle":172},
"encoding":{"x":{"field":"E2","type":"quantitative","axis":null},"y":{"field":"I2","type":"quantitative","axis":null}}},
{"data":{"name":"arrB"},"transform":[{"filter":"datum.id=='FX'"}],"mark":{"type":"point","shape":"triangle","filled":true,"color":"red","opacity":1,"size":45,"angle":31},
"encoding":{"x":{"field":"E2","type":"quantitative","axis":null},"y":{"field":"I2","type":"quantitative","axis":null}}},
{"data":{"name":"annB"},"transform":[{"filter":"datum.g=='big'"}],"mark":{"type":"text","font":"Liberation Sans","fontWeight":"bold","fontSize":36,"align":"left","baseline":"alphabetic","color":"black"},
"encoding":{"x":{"field":"E","type":"quantitative","axis":null},"y":{"field":"I","type":"quantitative","axis":null},"text":{"field":"t"}}},
{"data":{"name":"annB"},"transform":[{"filter":"datum.g=='main'"}],"mark":{"type":"text","font":"DejaVu Sans","fontWeight":"bold","fontSize":23.5,"align":"left","baseline":"alphabetic","color":"black"},
"encoding":{"x":{"field":"E","type":"quantitative","axis":null},"y":{"field":"I","type":"quantitative","axis":null},"text":{"field":"t"}}},
{"data":{"name":"annB"},"transform":[{"filter":"datum.g=='sup0'"}],"mark":{"type":"text","font":"DejaVu Sans","fontWeight":"bold","fontSize":16,"align":"left","baseline":"alphabetic","color":"black"},
"encoding":{"x":{"field":"E","type":"quantitative","axis":null},"y":{"field":"I","type":"quantitative","axis":null},"text":{"field":"t"}}},
{"data":{"name":"annB"},"transform":[{"filter":"datum.g=='fx'"}],"mark":{"type":"text","font":"DejaVu Sans","fontWeight":"bold","fontSize":25,"align":"left","baseline":"alphabetic","color":"black"},
"encoding":{"x":{"field":"E","type":"quantitative","axis":null},"y":{"field":"I","type":"quantitative","axis":null},"text":{"field":"t"}}},
{"data":{"name":"annB"},"transform":[{"filter":"datum.g=='sub'"}],"mark":{"type":"text","font":"DejaVu Sans","fontWeight":"bold","fontSize":17,"align":"left","baseline":"alphabetic","color":"black"},
"encoding":{"x":{"field":"E","type":"quantitative","axis":null},"y":{"field":"I","type":"quantitative","axis":null},"text":{"field":"t"}}},
{"data":{"name":"annB"},"transform":[{"filter":"datum.g=='supn'"}],"mark":{"type":"text","font":"DejaVu Sans","fontWeight":"bold","fontSize":14.5,"align":"left","baseline":"alphabetic","color":"black"},
"encoding":{"x":{"field":"E","type":"quantitative","axis":null},"y":{"field":"I","type":"quantitative","axis":null},"text":{"field":"t"}}},
{"data":{"name":"annB"},"transform":[{"filter":"datum.g=='par'"}],"mark":{"type":"text","font":"DejaVu Sans","fontWeight":"bold","fontSize":16.5,"align":"left","baseline":"alphabetic","color":"black"},
"encoding":{"x":{"field":"E","type":"quantitative","axis":null},"y":{"field":"I","type":"quantitative","axis":null},"text":{"field":"t"}}}
],
"resolve":{"axis":{"x":"independent","y":"independent"}}
}
]
}
